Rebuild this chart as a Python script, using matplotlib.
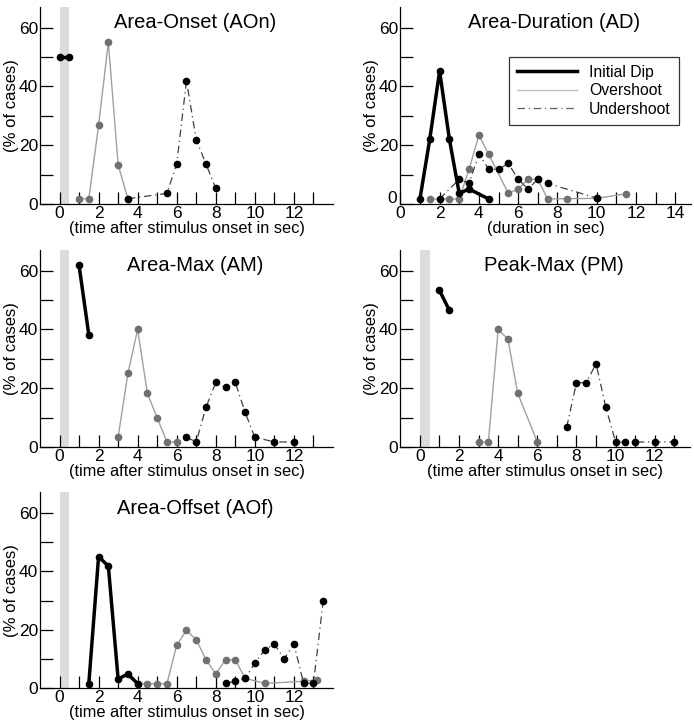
import matplotlib
matplotlib.use('Agg')
import matplotlib.pyplot as plt
import matplotlib.transforms as mtransforms
from matplotlib.lines import Line2D
import numpy as np

plt.rcParams['font.family'] = 'Liberation Sans'
plt.rcParams['font.size'] = 11

# Area-Onset (AOn)
aon_dip_x = [0, 0.5]
aon_dip_y = [50, 50]
aon_over_x = [1, 1.5, 2, 2.5, 3, 3.5]
aon_over_y = [1.8, 1.8, 26.7, 55, 13.4, 1.8]
aon_under_x = [3.5, 5.5, 6, 6.5, 7, 7.5, 8]
aon_under_y = [1.8, 3.6, 13.6, 41.9, 21.8, 13.6, 5.3]

# Area-Duration (AD)
ad_dip_x = [1, 1.5, 2, 2.5, 3, 3.5, 4.5]
ad_dip_y = [1.7, 22, 45.2, 22, 3.6, 5.1, 1.7]
ad_over_x = [1.5, 2.5, 3, 3.5, 4, 4.5, 5.5, 6, 6.5, 7, 7.5, 8.5, 10, 11.5]
ad_over_y = [1.7, 1.7, 1.7, 11.8, 23.4, 16.9, 3.6, 5.1, 8.4, 8.4, 1.7, 1.8, 1.9, 3.5]
ad_under_x = [2, 3, 3.5, 4, 4.5, 5, 5.5, 6, 6.5, 7, 7.5, 10]
ad_under_y = [1.7, 8.4, 7.0, 16.9, 11.8, 11.8, 13.8, 8.4, 5.1, 8.4, 7.0, 2.0]

# Area-Max (AM)
am_dip_x = [1, 1.5]
am_dip_y = [61.8, 38.2]
am_over_x = [3, 3.5, 4, 4.5, 5, 5.5, 6]
am_over_y = [3.4, 25.1, 40, 18.3, 10, 1.8, 1.8]
am_under_x = [6.5, 7, 7.5, 8, 8.5, 9, 9.5, 10, 11, 12]
am_under_y = [3.4, 1.8, 13.6, 22, 20.3, 22, 11.9, 3.4, 1.8, 1.8]

# Peak-Max (PM)
pm_dip_x = [1, 1.5]
pm_dip_y = [53.3, 46.6]
pm_over_x = [3, 3.5, 4, 4.5, 5, 6]
pm_over_y = [1.8, 1.8, 40, 36.7, 18.3, 1.8]
pm_under_x = [7.5, 8, 8.5, 9, 9.5, 10, 10.5, 11, 12, 13]
pm_under_y = [6.8, 21.9, 21.9, 28.4, 13.6, 1.8, 1.8, 1.8, 1.8, 1.8]

# Area-Offset (AOf)
aof_dip_x = [1.5, 2, 2.5, 3, 3.5, 4]
aof_dip_y = [1.6, 45, 41.8, 3.2, 4.9, 1.6]
aof_over_x = [4, 4.5, 5, 5.5, 6, 6.5, 7, 7.5, 8, 8.5, 9, 9.5, 10.5, 12.5, 13.2]
aof_over_y = [1.6, 1.6, 1.6, 1.6, 14.8, 19.8, 16.6, 9.8, 4.9, 9.8, 9.8, 3.4, 1.7, 2.4, 2.9]
aof_under_x = [8.5, 9, 9.5, 10, 10.5, 11, 11.5, 12, 12.5, 13, 13.5]
aof_under_y = [1.7, 2.4, 3.4, 8.5, 13.2, 15.1, 10.1, 15.1, 1.7, 1.7, 29.8]

panels = [
    ('Area-Onset (AOn)', aon_dip_x, aon_dip_y, aon_over_x, aon_over_y, aon_under_x, aon_under_y),
    ('Area-Duration (AD)', ad_dip_x, ad_dip_y, ad_over_x, ad_over_y, ad_under_x, ad_under_y),
    ('Area-Max (AM)', am_dip_x, am_dip_y, am_over_x, am_over_y, am_under_x, am_under_y),
    ('Peak-Max (PM)', pm_dip_x, pm_dip_y, pm_over_x, pm_over_y, pm_under_x, pm_under_y),
    ('Area-Offset (AOf)', aof_dip_x, aof_dip_y, aof_over_x, aof_over_y, aof_under_x, aof_under_y),
]

rects = [
    [0.0576, 0.7167, 0.4222, 0.2736],
    [0.5768, 0.7167, 0.4189, 0.2736],
    [0.0576, 0.3788, 0.4222, 0.2740],
    [0.5768, 0.3788, 0.4174, 0.2740],
    [0.0576, 0.0440, 0.4222, 0.2722],
]
xlims = [(-1, 14), (0, 14.8), (-1, 14), (-1, 13.8), (-1, 14)]
xlabels = ['(time after stimulus onset in sec)', '(duration in sec)',
           '(time after stimulus onset in sec)', '(time after stimulus onset in sec)',
           '(time after stimulus onset in sec)']
dashdot = (0, (6, 3, 1, 3))

fig = plt.figure(figsize=(6.94, 7.2), dpi=100)

for i, (title, dx, dy, ox, oy, ux, uy) in enumerate(panels):
    ax = fig.add_axes(rects[i])
    duration = (i == 1)
    if not duration:
        ax.axvspan(0, 0.5, color='#dcdcdc', lw=0, zorder=0)
    ax.plot(ox, oy, color='#a0a0a0', lw=1, marker='o', ms=4.5,
            mfc='#707070', mec='#707070', zorder=2)
    ax.plot(ux, uy, color='#404040', lw=0.9, ls=dashdot, marker='o', ms=4.5,
            mfc='black', mec='black', zorder=3)
    ax.plot(dx, dy, color='black', lw=2.5, marker='o', ms=4.5,
            mfc='black', mec='black', zorder=4)

    ax.set_xlim(*xlims[i])
    ax.set_ylim(0, 67)
    xmax = 14 if duration else 13
    ax.set_xticks(np.arange(0, xmax + 1, 1))
    ax.set_xticklabels([str(t) if t % 2 == 0 else '' for t in range(0, xmax + 1)])
    ax.set_yticks(np.arange(0, 61, 10))
    ax.set_yticklabels([str(t) if t % 20 == 0 else '' for t in range(0, 61, 10)])
    ax.tick_params(direction='in', length=9, width=0.9, labelsize=12.5, pad=1.5)
    ax.spines['top'].set_visible(False)
    ax.spines['right'].set_visible(False)
    for s in ['left', 'bottom']:
        ax.spines[s].set_linewidth(0.9)
    ax.set_ylabel('(% of cases)', fontsize=12, labelpad=0)
    ax.set_xlabel(xlabels[i], fontsize=11.8, labelpad=0)
    ax.text(0.53, 0.92, title, transform=ax.transAxes, ha='center', va='center', fontsize=14.5)

    if duration:
        # the y "0" sits up and left of the corner so it clears the x "0"
        lab0 = ax.get_yticklabels()[0]
        lab0.set_transform(lab0.get_transform() +
                           mtransforms.ScaledTranslation(-1 / 72, 5 / 72, fig.dpi_scale_trans))
        handles = [Line2D([], [], color='black', lw=2.5),
                   Line2D([], [], color='#c0c0c0', lw=1),
                   Line2D([], [], color='#606060', lw=0.9, ls=dashdot)]
        leg = ax.legend(handles, ['Initial Dip', 'Overshoot', 'Undershoot'],
                        loc='upper right', bbox_to_anchor=(0.958, 0.746),
                        fontsize=11.3, frameon=True, fancybox=False,
                        handlelength=3.8, borderpad=0.5, labelspacing=0.22,
                        handletextpad=0.8, borderaxespad=0)
        leg.get_frame().set_edgecolor('black')
        leg.get_frame().set_linewidth(0.9)

fig.savefig('out.png', dpi=100)
